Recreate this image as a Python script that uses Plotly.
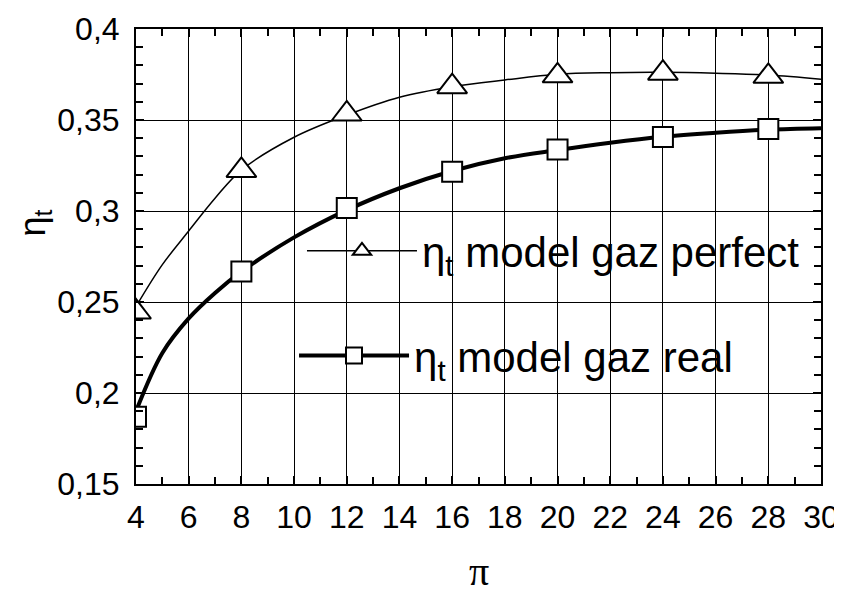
import plotly.graph_objects as go

# ---- data ----
marker_pi = [4, 8, 12, 16, 20, 24, 28]
eta_perfect_pts = [0.2445, 0.3223, 0.3533, 0.3683, 0.3743, 0.3757, 0.3740]
eta_real_pts = [0.1870, 0.2667, 0.3016, 0.3216, 0.3338, 0.3407, 0.3450]

curve_pi = [4, 5, 6, 7, 8, 10, 12, 14, 16, 18, 20, 22, 24, 26, 28, 30]
eta_perfect_curve = [0.2475, 0.2705, 0.2890, 0.3070, 0.3225, 0.3405, 0.3527, 0.3625,
                     0.3683, 0.3720, 0.3751, 0.3760, 0.3762, 0.3757, 0.3747, 0.3724]
eta_real_curve = [0.1900, 0.2220, 0.2410, 0.2550, 0.2667, 0.2855, 0.3005, 0.3125,
                  0.3220, 0.3290, 0.3335, 0.3375, 0.3408, 0.3430, 0.3447, 0.3455]

x_range = [4, 30]
y_range = [0.15, 0.4]
x_tick_step = 2
x_minor_step = 1
y_tick_step = 0.05
y_minor_step = 0.01

name_perfect = "η<sub>t</sub> model gaz perfect"
name_real = "η<sub>t</sub> model gaz real"
x_title = "π"
y_title = "η<sub>t</sub>"

FONT = "Liberation Sans, Arial, sans-serif"

fig = go.Figure()

# smooth curves
fig.add_trace(go.Scatter(x=curve_pi, y=eta_perfect_curve, mode="lines",
                         line=dict(color="black", width=1.5, shape="spline"),
                         showlegend=False, hoverinfo="skip"))
fig.add_trace(go.Scatter(x=curve_pi, y=eta_real_curve, mode="lines",
                         line=dict(color="black", width=4, shape="spline"),
                         showlegend=False, hoverinfo="skip"))
# markers
fig.add_trace(go.Scatter(x=marker_pi, y=eta_perfect_pts, mode="markers",
                         marker=dict(symbol="triangle-up", size=26, color="white",
                                     line=dict(color="black", width=2)),
                         showlegend=False))
fig.add_trace(go.Scatter(x=marker_pi, y=eta_real_pts, mode="markers",
                         marker=dict(symbol="square", size=20, color="white",
                                     line=dict(color="black", width=2)),
                         showlegend=False))
# legend entries
fig.add_trace(go.Scatter(x=[None], y=[None], mode="lines+markers", name=name_perfect,
                         line=dict(color="black", width=1.5),
                         marker=dict(symbol="triangle-up", size=16, color="white",
                                     line=dict(color="black", width=2)),
                         legend="legend"))
fig.add_trace(go.Scatter(x=[None], y=[None], mode="lines+markers", name=name_real,
                         line=dict(color="black", width=4),
                         marker=dict(symbol="square", size=16, color="white",
                                     line=dict(color="black", width=2)),
                         legend="legend2"))
# empty trace on the overlay axes that carry the minor ticks
fig.add_trace(go.Scatter(x=[None], y=[None], xaxis="x2", yaxis="y2",
                         showlegend=False, hoverinfo="skip"))

axis_common = dict(
    automargin=False,
    showline=True, linecolor="black", linewidth=2, mirror="all",
    ticks="inside", ticklen=8, tickwidth=1.5, tickcolor="black",
    showgrid=True, gridcolor="black", gridwidth=1, zeroline=False,
    tickfont=dict(family=FONT, size=32, color="black"),
    tickmode="linear",
)

minor_common = dict(
    automargin=False, showline=False, showgrid=False, zeroline=False,
    showticklabels=False, ticks="inside", ticklen=7, tickwidth=1.5,
    tickcolor="black", mirror="ticks", tickmode="linear",
)

fig.update_layout(
    xaxis=dict(range=x_range, tick0=x_range[0], dtick=x_tick_step,
               ticklabelstandoff=4, **axis_common),
    yaxis=dict(range=y_range, tick0=y_range[0], dtick=y_tick_step,
               ticklabelstandoff=8, **axis_common),
    xaxis2=dict(range=x_range, tick0=x_range[0], dtick=x_minor_step,
                overlaying="x", anchor="y", side="bottom", **minor_common),
    yaxis2=dict(range=y_range, tick0=y_range[0], dtick=y_minor_step,
                overlaying="y", anchor="x", side="left", **minor_common),
)

fig.add_annotation(text=x_title, xref="paper", yref="paper", x=0.5, y=-0.193,
                   xanchor="center", yanchor="middle", showarrow=False,
                   font=dict(family="Liberation Serif, serif", size=40, color="black"))
fig.add_annotation(text=y_title, xref="paper", yref="paper", x=-0.148, y=0.574,
                   xanchor="center", yanchor="middle", showarrow=False, textangle=-90,
                   font=dict(family=FONT, size=36, color="black"))

legend_common = dict(bgcolor="rgba(0,0,0,0)", borderwidth=0, xanchor="left", yanchor="middle",
                     font=dict(family=FONT, size=42, color="black"),
                     itemwidth=110, tracegroupgap=0)

# white patches behind the legend rows (drawn between grid and traces)
for (x0, x1, y0, y1) in [(0.2526, 0.9693, 0.4527, 0.5582), (0.2453, 0.873, 0.2132, 0.3231)]:
    fig.add_shape(type="rect", xref="paper", yref="paper", x0=x0, x1=x1, y0=y0, y1=y1,
                  fillcolor="white", line=dict(width=0), layer="between")

fig.update_layout(
    width=834, height=587,
    margin=dict(l=128, r=21, t=21, b=111),
    separators=", ",
    plot_bgcolor="white", paper_bgcolor="white",
    legend=dict(x=0.2423, y=0.512, **legend_common),
    legend2=dict(x=0.2307, y=0.282, **legend_common),
)

fig.write_html("out.html")
